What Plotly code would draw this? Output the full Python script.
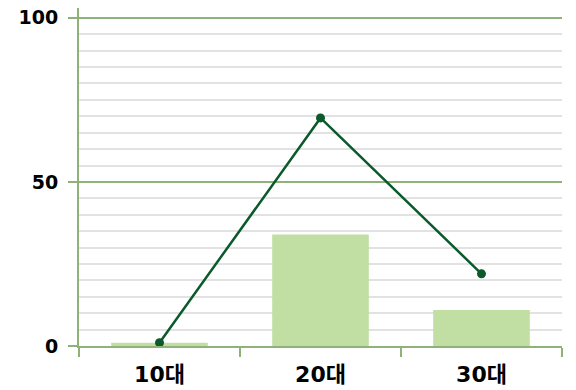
import plotly.graph_objects as go

categories = ["10대", "20대", "30대"]
bar_values = [1, 34, 11]
line_values = [1, 69.5, 22]
y_tickvals = [0, 50, 100]
y_ticktext = ["0", "50", "100"]

AXIS_GREEN = "#8fb27a"
BAR_GREEN = "#c1dea3"
LINE_GREEN = "#0b5a2c"
FONT = "DejaVu Sans, Noto Sans CJK KR, sans-serif"

fig = go.Figure()
fig.add_trace(go.Bar(x=categories, y=bar_values, marker=dict(color=BAR_GREEN, line=dict(width=0)),
                     hoverinfo="skip"))
fig.add_trace(go.Scatter(x=categories, y=line_values, mode="lines+markers",
                         line=dict(color=LINE_GREEN, width=2.5),
                         marker=dict(color=LINE_GREEN, size=9)))

fig.update_layout(
    width=576, height=390,
    margin=dict(l=79, r=14, t=8, b=44, autoexpand=False),
    paper_bgcolor="white", plot_bgcolor="white",
    showlegend=False,
    bargap=0.4,
    font=dict(family=FONT, color="black"),
)
fig.update_xaxes(
    automargin=False,
    showline=True, linecolor=AXIS_GREEN, linewidth=2,
    ticks="outside", tickson="boundaries", ticklen=9, tickcolor=AXIS_GREEN, tickwidth=2,
    ticklabelstandoff=8,
    tickfont=dict(family=FONT, size=22, color="black", weight="bold"),
    showgrid=False, zeroline=False,
)
fig.update_yaxes(
    automargin=False,
    range=[0, 103],
    tickvals=y_tickvals, ticktext=y_ticktext,
    showline=True, linecolor=AXIS_GREEN, linewidth=2,
    ticks="outside", ticklen=9, tickcolor=AXIS_GREEN, tickwidth=2,
    ticklabelstandoff=6,
    tickfont=dict(family=FONT, size=19, color="black", weight="bold"),
    showgrid=True, gridcolor=AXIS_GREEN, gridwidth=2,
    zeroline=False,
    minor=dict(dtick=5, tick0=0, showgrid=True, gridcolor="#e2e2e2", gridwidth=1.5, ticks=""),
)

fig.write_html("out.html")
